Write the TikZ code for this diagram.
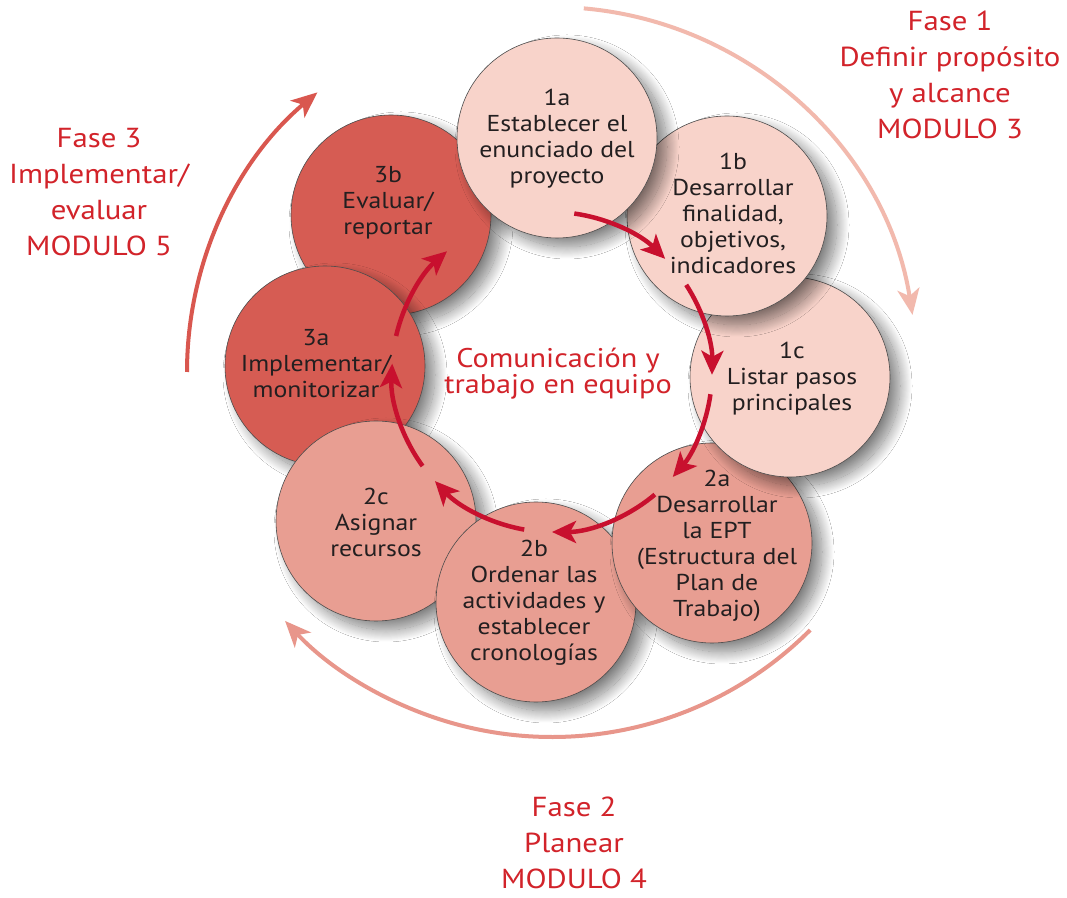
\documentclass[tikz,border=0pt]{standalone}
\usepackage{fontspec}
\setmainfont{PT Sans}[FakeStretch=1.12]
\usetikzlibrary{arrows.meta,shadows.blur,calc}
\definecolor{pinkA}{HTML}{F8D3CA}
\definecolor{pinkB}{HTML}{E89E92}
\definecolor{pinkC}{HTML}{D65C53}
\definecolor{crim}{HTML}{C8102E}
\definecolor{txtred}{HTML}{D2232A}
\definecolor{arcA}{HTML}{F2B9AD}
\definecolor{arcB}{HTML}{E8968B}
\definecolor{arcC}{HTML}{D9574F}
\definecolor{ink}{HTML}{231F20}
\begin{document}
\begin{tikzpicture}[x=1pt,y=1pt,
  stage/.style={circle, minimum size=200pt, inner sep=0pt, draw=black!70, line width=0.6pt,
    blur shadow={shadow xshift=10pt, shadow yshift=-9pt, shadow blur radius=12pt, shadow blur steps=24, shadow opacity=50}},
  stagetxt/.style={align=center, text=ink, inner sep=0pt, font=\fontsize{23}{26}\selectfont},
  phasetxt/.style={align=center, text=txtred, inner sep=0pt, font=\fontsize{27.5}{36}\selectfont},
  phase/.style={line width=4pt, -{Stealth[length=26pt,width=22pt,inset=7pt]}},
  flow/.style={draw=crim, line width=4.5pt, -{Stealth[length=24pt,width=22pt,inset=6pt]}}]
\useasboundingbox (0,0) rectangle (1067,897);
\fill[white] (0,0) rectangle (1067,897);
\coordinate (C) at (552,525);
% outer phase arcs
\coordinate (p1s) at ($(C)+(85:365)$);
\coordinate (p2s) at ($(C)+(-45:365)$);
\coordinate (p3s) at ($(C)+(180:365)$);
\draw[phase, draw=arcA] (p1s) arc[start angle=85, end angle=9, radius=365];
\draw[phase, draw=arcB] (p2s) arc[start angle=-45, end angle=-137, radius=365];
\draw[phase, draw=arcC] (p3s) arc[start angle=180, end angle=130, radius=365];
% circles, bottom to top
\node[stage, fill=pinkC] (s3b) at (391,682) {};
\node[stage, fill=pinkC] (s3a) at (325,531) {};
\node[stage, fill=pinkB] (s2c) at (376,376) {};
\node[stage, fill=pinkB] (s2b) at (536,295) {};
\node[stage, fill=pinkB] (s2a) at (712,354) {};
\node[stage, fill=pinkA] (s1c) at (790,520) {};
\node[stage, fill=pinkA] (s1b) at (727,681) {};
\node[stage, fill=pinkA] (s1a) at (557,759) {};
% circle texts
\node[stagetxt] (t1a) at (557,758) {1a\\Establecer el\\enunciado del\\proyecto};
\node[stagetxt] (t1b) at (733,684) {1b\\Desarrollar\\finalidad,\\objetivos,\\indicadores};
\node[stagetxt] (t1c) at (792,518) {1c\\Listar pasos\\principales};
\node[stagetxt] (t2a) at (717,351) {2a\\Desarrollar\\la EPT\\(Estructura del\\Plan de\\Trabajo)};
\node[stagetxt] (t2b) at (534,294) {2b\\Ordenar las\\actividades y\\establecer\\cronologías};
\node[stagetxt] (t2c) at (376,375) {2c\\Asignar\\recursos};
\node[stagetxt] (t3a) at (316,533) {3a\\Implementar/\\monitorizar};
\node[stagetxt] (t3b) at (388,694) {3b\\Evaluar/\\reportar};
% centre text
\node[align=center, text=txtred, inner sep=0pt, font=\fontsize{27}{26}\selectfont] (ctr) at (558,523) {Comunicación y\\trabajo en equipo};
% phase texts
\node[phasetxt] (f1) at (950,822) {Fase 1\\Definir propósito\\y alcance\\MODULO 3};
\node[phasetxt] (f3) at (99,705) {Fase 3\\Implementar/\\evaluar\\MODULO 5};
\node[phasetxt] (f2) at (574,54) {Fase 2\\Planear\\MODULO 4};
% inner flow arrows
\coordinate (a1) at ($(C)+(82:160)$);
\coordinate (a2) at ($(C)+(33:160)$);
\coordinate (a3) at ($(C)+(-8:160)$);
\coordinate (a4) at ($(C)+(-50:160)$);
\coordinate (a5) at ($(C)+(-100:160)$);
\coordinate (a6) at ($(C)+(-144:160)$);
\coordinate (a7) at ($(C)+(167:160)$);
\draw[flow] (a1) arc[start angle=82, end angle=45, radius=160];
\draw[flow] (a2) arc[start angle=33, end angle=-1, radius=160];
\draw[flow] (a3) arc[start angle=-8, end angle=-41, radius=160];
\draw[flow] (a4) arc[start angle=-50, end angle=-90, radius=160];
\draw[flow] (a5) arc[start angle=-100, end angle=-137, radius=160];
\draw[flow] (a6) arc[start angle=-144, end angle=-183, radius=160];
\draw[flow] (a7) arc[start angle=167, end angle=131, radius=160];
\end{tikzpicture}
\end{document}
